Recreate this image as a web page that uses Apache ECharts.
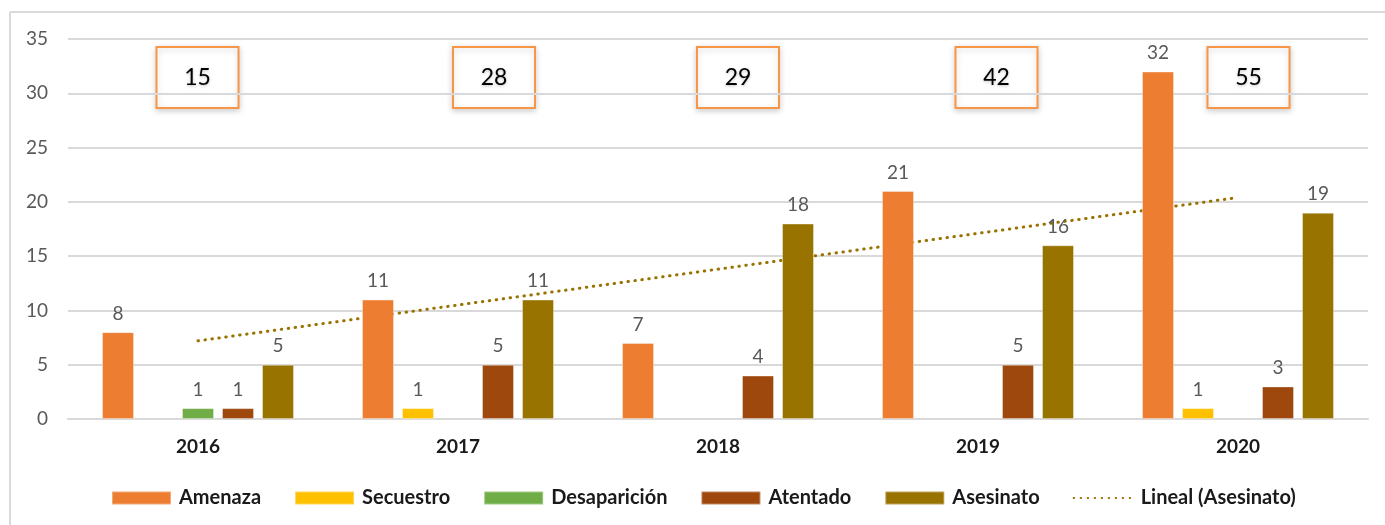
<!DOCTYPE html>
<html><head><meta charset="utf-8">
<script src="https://cdn.jsdelivr.net/npm/echarts@6/dist/echarts.min.js"></script>
<style>html,body{margin:0;padding:0;background:#fff}#c{width:1385px;height:525px}</style>
</head><body><div id="c"></div>
<script>
const years = ['2016','2017','2018','2019','2020'];
const amenaza = [8, 11, 7, 21, 32];
const secuestro = [null, 1, null, null, 1];
const desaparicion = [1, null, null, null, null];
const atentado = [1, 5, 4, 5, 3];
const asesinato = [5, 11, 18, 16, 19];
const tendencia = [7.2, null, null, null, 20.4];
const totales = ['15', '28', '29', '42', '55'];
const yTicks = [0, 5, 10, 15, 20, 25, 30, 35];

const FONT = 'Lato, "Open Sans", sans-serif';
const colors = ['#ED7D31', '#FFC000', '#70AD47', '#9E480E', '#997300'];
const names = ['Amenaza', 'Secuestro', 'Desaparición', 'Atentado', 'Asesinato'];
const datas = [amenaza, secuestro, desaparicion, atentado, asesinato];

const chart = echarts.init(document.getElementById('c'), null, {renderer: 'canvas'});

const barSeries = names.map((n, i) => ({
  name: n, type: 'bar', data: datas[i], barWidth: 32, barGap: '25%', z: 3,
  itemStyle: {color: colors[i], borderColor: 'rgba(255,255,255,0.35)', borderWidth: 1},
  label: {show: true, position: 'top', distance: 9, color: '#595959', fontSize: 19, fontFamily: FONT}
}));

const boxCenters = [196.5, 493, 737, 995.5, 1247.5];
const boxes = totales.map((t, i) => ({
  type: 'group', left: boxCenters[i] - 41, top: 46,
  children: [
    {type: 'rect', shape: {x: 0, y: 0, width: 82, height: 61},
     style: {fill: '#fff', stroke: '#F79646', lineWidth: 2, shadowBlur: 6, shadowColor: 'rgba(0,0,0,0.18)', shadowOffsetY: 2}},
    {type: 'text', style: {text: t, x: 41, y: 30.5, align: 'center', verticalAlign: 'middle', fill: '#000', font: '23px ' + FONT,
      textShadowBlur: 3, textShadowColor: 'rgba(0,0,0,0.25)', textShadowOffsetY: 1}}
  ]
}));

chart.setOption({
  animation: false,
  backgroundColor: '#fff',
  grid: {left: 68, right: 17, top: 39, bottom: 106, containLabel: false},
  xAxis: {
    type: 'category', data: years,
    axisLine: {show: true, lineStyle: {color: '#D9D9D9', width: 2}},
    axisTick: {show: false},
    axisLabel: {color: '#1a1a1a', fontWeight: 'bold', fontSize: 19, fontFamily: FONT, margin: 18}
  },
  yAxis: {
    type: 'value', min: yTicks[0], max: yTicks[yTicks.length - 1], interval: 5,
    axisLine: {show: false}, axisTick: {show: false},
    axisLabel: {color: '#595959', fontSize: 19, fontFamily: FONT, margin: 20},
    splitLine: {lineStyle: {color: '#D9D9D9', width: 2}}
  },
  legend: {
    top: 483, left: 106, itemWidth: 59, itemHeight: 13, itemGap: 33,
    textStyle: {color: '#1a1a1a', fontWeight: 'bold', fontSize: 20, fontFamily: FONT, padding: [0, 0, 0, 3]},
    data: names.map(n => ({name: n, icon: 'rect'})).concat([{name: 'Lineal (Asesinato)', itemStyle: {opacity: 0}}])
  },
  graphic: [
    {type: 'line', shape: {x1: 10, y1: 12, x2: 1385, y2: 12}, style: {stroke: '#D9D9D9', lineWidth: 2}},
    {type: 'line', shape: {x1: 10, y1: 12, x2: 10, y2: 525}, style: {stroke: '#D9D9D9', lineWidth: 2}}
  ].concat(boxes),
  series: barSeries.concat([{
    name: 'Lineal (Asesinato)', type: 'line', data: tendencia, connectNulls: true, z: 1,
    symbol: 'none', itemStyle: {color: '#997300'},
    lineStyle: {color: '#997300', width: 3, type: [0.5, 6.5], cap: 'round'}
  }])
});
</script></body></html>
